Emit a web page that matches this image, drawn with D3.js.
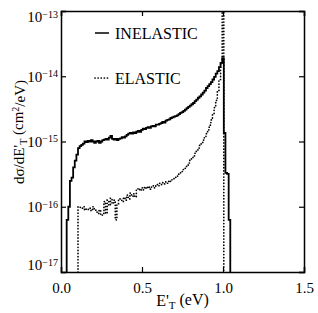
<!DOCTYPE html>
<meta charset="utf-8">
<script src="https://d3js.org/d3.v7.min.js"></script>
<style>
body { margin: 0; background: #fff; }
</style>
<body>
<script>

// Data (bin left edges in eV, cross sections in cm^2/eV)
var inelasticE = [0.035, 0.045, 0.055, 0.065, 0.075, 0.085, 0.095, 0.105, 0.115, 0.125,
  0.135, 0.145, 0.155, 0.165, 0.175, 0.185, 0.195, 0.205, 0.215, 0.225,
  0.235, 0.245, 0.255, 0.265, 0.275, 0.285, 0.295, 0.305, 0.315, 0.325,
  0.335, 0.345, 0.355, 0.365, 0.375, 0.385, 0.395, 0.405, 0.415, 0.425,
  0.435, 0.445, 0.455, 0.465, 0.475, 0.485, 0.495, 0.505, 0.515, 0.525,
  0.535, 0.545, 0.555, 0.565, 0.575, 0.585, 0.595, 0.605, 0.615, 0.625,
  0.635, 0.645, 0.655, 0.665, 0.675, 0.685, 0.695, 0.705, 0.715, 0.725,
  0.735, 0.745, 0.755, 0.765, 0.775, 0.785, 0.795, 0.805, 0.815, 0.825,
  0.835, 0.845, 0.855, 0.865, 0.875, 0.885, 0.895, 0.905, 0.915, 0.925,
  0.935, 0.945, 0.955, 0.965, 0.975, 0.985, 0.995, 1.005, 1.015, 1.025,
  1.035, 1.045];
var inelasticSigma = [6.3e-17, 1.0e-16, 2.5e-16, 2.8e-16, 4.0e-16, 5.1e-16, 6.3e-16, 7.9e-16, 8.5e-16, 8.9e-16,
  9.3e-16, 1.0e-15, 9.8e-16, 1.02e-15, 1.0e-15, 1.05e-15, 1.0e-15, 9.5e-16, 1.0e-15, 1.02e-15,
  9.5e-16, 1.0e-15, 1.05e-15, 1.07e-15, 1.1e-15, 1.07e-15, 1.15e-15, 1.22e-15, 1.1e-15, 1.07e-15,
  1.1e-15, 1.05e-15, 1.1e-15, 1.12e-15, 1.17e-15, 1.15e-15, 1.2e-15, 1.26e-15, 1.32e-15, 1.35e-15,
  1.32e-15, 1.38e-15, 1.35e-15, 1.41e-15, 1.45e-15, 1.41e-15, 1.51e-15, 1.58e-15, 1.55e-15, 1.62e-15,
  1.66e-15, 1.62e-15, 1.7e-15, 1.74e-15, 1.7e-15, 1.82e-15, 1.82e-15, 1.86e-15, 1.91e-15, 2.0e-15,
  1.95e-15, 2.09e-15, 2.14e-15, 2.19e-15, 2.29e-15, 2.34e-15, 2.4e-15, 2.45e-15, 2.51e-15, 2.63e-15,
  2.75e-15, 2.82e-15, 2.95e-15, 3.09e-15, 3.24e-15, 3.39e-15, 3.55e-15, 3.72e-15, 3.89e-15, 4.17e-15,
  4.37e-15, 4.68e-15, 4.9e-15, 5.25e-15, 5.62e-15, 6.03e-15, 6.61e-15, 7.08e-15, 7.59e-15, 8.13e-15,
  8.91e-15, 9.77e-15, 1.1e-14, 1.2e-14, 1.38e-14, 1.6e-14, 1.9e-14, 1.35e-15, 3.3e-16, 3.2e-16,
  6.3e-17, 1e-18];

var elasticE = [0.105, 0.115, 0.125, 0.135, 0.145, 0.155, 0.165, 0.175, 0.185, 0.195,
  0.205, 0.215, 0.225, 0.235, 0.245, 0.255, 0.265, 0.275, 0.285, 0.295,
  0.305, 0.315, 0.325, 0.335, 0.345, 0.355, 0.365, 0.375, 0.385, 0.395,
  0.405, 0.415, 0.425, 0.435, 0.445, 0.455, 0.465, 0.475, 0.485, 0.495,
  0.505, 0.515, 0.525, 0.535, 0.545, 0.555, 0.565, 0.575, 0.585, 0.595,
  0.605, 0.615, 0.625, 0.635, 0.645, 0.655, 0.665, 0.675, 0.685, 0.695,
  0.705, 0.715, 0.725, 0.735, 0.745, 0.755, 0.765, 0.775, 0.785, 0.795,
  0.805, 0.815, 0.825, 0.835, 0.845, 0.855, 0.865, 0.875, 0.885, 0.895,
  0.905, 0.915, 0.925, 0.935, 0.945, 0.955, 0.965, 0.975, 0.985, 0.995,
  1.005];
var elasticSigma = [1.0e-16, 9.8e-17, 9.5e-17, 1.0e-16, 8.9e-17, 9.3e-17, 9.1e-17, 9.5e-17, 8.7e-17, 1.0e-16,
  9.3e-17, 8.3e-17, 7.9e-17, 8.9e-17, 7.4e-17, 7.9e-17, 1.2e-16, 7.9e-17, 1.26e-16, 1.05e-16,
  1.35e-16, 1.12e-16, 1.26e-16, 6.3e-17, 1.12e-16, 1.32e-16, 1.26e-16, 1.2e-16, 1.38e-16, 1.26e-16,
  1.51e-16, 1.32e-16, 1.62e-16, 1.45e-16, 1.58e-16, 1.41e-16, 1.82e-16, 1.91e-16, 1.78e-16, 1.95e-16,
  1.82e-16, 2.0e-16, 1.91e-16, 2.04e-16, 1.86e-16, 2.0e-16, 2.09e-16, 1.95e-16, 2.19e-16, 2.09e-16,
  2.29e-16, 2.19e-16, 2.34e-16, 2.24e-16, 2.4e-16, 2.29e-16, 2.51e-16, 2.45e-16, 2.63e-16, 2.69e-16,
  2.82e-16, 2.95e-16, 3.16e-16, 3.31e-16, 3.47e-16, 3.72e-16, 3.89e-16, 4.27e-16, 4.68e-16, 5.13e-16,
  5.5e-16, 6.03e-16, 6.61e-16, 7.24e-16, 7.94e-16, 8.71e-16, 9.55e-16, 1.05e-15, 1.15e-15, 1.32e-15,
  1.51e-15, 1.78e-15, 2.14e-15, 2.63e-15, 3.31e-15, 4.27e-15, 6.03e-15, 8.91e-15, 1.58e-14, 3.2e-13,
  1e-18];

var xTicks = [0.0, 0.5, 1.0, 1.5];
var yTicks = [1e-17, 1e-16, 1e-15, 1e-14, 1e-13];
var yExponents = ["-17", "-16", "-15", "-14", "-13"];
var legendLabels = ["INELASTIC", "ELASTIC"];

var serif = "Liberation Serif";

var margin = {top: 11, right: 14, bottom: 41, left: 61};
var width = 318 - margin.left - margin.right,
    height = 313 - margin.top - margin.bottom;

var svg = d3.select("body").append("svg")
    .attr("width", 318)
    .attr("height", 313)
    .attr("font-family", serif);

var g = svg.append("g")
    .attr("transform", `translate(${margin.left},${margin.top})`);

var xScale = d3.scaleLinear().domain([0, 1.5]).range([0, width]);
var yScale = d3.scaleLog().domain([1e-17, 1e-13]).range([height, 0]);

g.append("clipPath").attr("id", "plot")
  .append("rect").attr("width", width).attr("height", height);

// axes with inward ticks
var xAxisB = d3.axisBottom(xScale).tickValues(xTicks).tickSize(-5).tickFormat(d3.format(".1f")).tickPadding(10);
var xAxisT = d3.axisTop(xScale).tickValues(xTicks).tickSize(-5).tickFormat("");
var yAxisL = d3.axisLeft(yScale).tickValues(yTicks).tickSize(-5).tickFormat("");
var yAxisR = d3.axisRight(yScale).tickValues(yTicks).tickSize(-5).tickFormat("");

g.append("g").attr("transform", `translate(0,${height})`).call(xAxisB)
  .attr("font-family", serif)
  .call(a => a.selectAll("text").attr("font-family", serif).attr("font-size", 15).attr("dy", "0.71em"));
g.append("g").call(xAxisT);
g.append("g").call(yAxisL);
g.append("g").attr("transform", `translate(${width},0)`).call(yAxisR);

g.selectAll(".domain").attr("stroke-width", 1.5);
g.selectAll(".tick line").attr("stroke-width", 1.2);

// y tick labels 10^n
var yl = g.append("g");
yTicks.forEach(function(t, i) {
  var shift = i === yTicks.length - 1 ? 6 : (i === 0 ? -7 : 0);
  var txt = yl.append("text")
    .attr("x", -3)
    .attr("y", yScale(t) + shift)
    .attr("dy", "0.35em")
    .attr("text-anchor", "end")
    .attr("font-family", serif)
    .attr("font-size", 15);
  txt.append("tspan").text("10");
  txt.append("tspan").attr("dy", "-0.45em").attr("font-size", 10).text("\u2212" + yExponents[i].slice(1));
});

// curves
var inelastic = inelasticE.map((e, i) => ({x: e, y: inelasticSigma[i]}));
var elastic = elasticE.map((e, i) => ({x: e, y: elasticSigma[i]}));
inelastic.unshift({x: inelasticE[0], y: 1e-18});
elastic.unshift({x: elasticE[0], y: 1e-18});

var line = d3.line()
  .x(d => xScale(d.x))
  .y(d => yScale(d.y))
  .curve(d3.curveStepAfter);

var plot = g.append("g").attr("clip-path", "url(#plot)");

plot.append("path")
  .datum(elastic)
  .attr("d", line)
  .attr("fill", "none")
  .attr("stroke", "#000")
  .attr("stroke-width", 1.7)
  .attr("stroke-linecap", "round")
  .attr("stroke-dasharray", "0.1,3");

plot.append("path")
  .datum(inelastic)
  .attr("d", line)
  .attr("fill", "none")
  .attr("stroke", "#000")
  .attr("stroke-width", 1.8);

// legend
var legend = g.append("g");
legendLabels.forEach(function(lab, i) {
  var ly = 22 + i * 45;
  legend.append("line")
    .attr("x1", 34).attr("x2", 48)
    .attr("y1", ly).attr("y2", ly)
    .attr("stroke", "#000")
    .attr("stroke-width", i === 0 ? 1.5 : 1.7)
    .attr("stroke-linecap", i === 0 ? null : "round")
    .attr("stroke-dasharray", i === 0 ? null : "0.1,3");
  legend.append("text")
    .attr("x", 54).attr("y", ly)
    .attr("dy", "0.35em")
    .attr("font-family", serif)
    .attr("font-size", 16)
    .text(lab);
});

// axis titles
var xt = svg.append("text")
  .attr("x", margin.left + width / 2)
  .attr("y", 306)
  .attr("text-anchor", "middle")
  .attr("font-family", serif)
  .attr("font-size", 16);
xt.append("tspan").text("E'");
xt.append("tspan").attr("dy", "0.3em").attr("font-size", 11).text("T");
xt.append("tspan").attr("dy", "-0.3em").text(" (eV)");

var yt = svg.append("text")
  .attr("transform", "translate(24,132) rotate(-90)")
  .attr("text-anchor", "middle")
  .attr("font-family", serif)
  .attr("font-size", 15);
yt.append("tspan").text("d\u03c3/dE'");
yt.append("tspan").attr("dy", "0.3em").attr("font-size", 10).text("T");
yt.append("tspan").attr("dy", "-0.3em").text(" (cm");
yt.append("tspan").attr("dy", "-0.4em").attr("font-size", 10).text("2");
yt.append("tspan").attr("dy", "0.4em").text("/eV)");

</script>
</body>
